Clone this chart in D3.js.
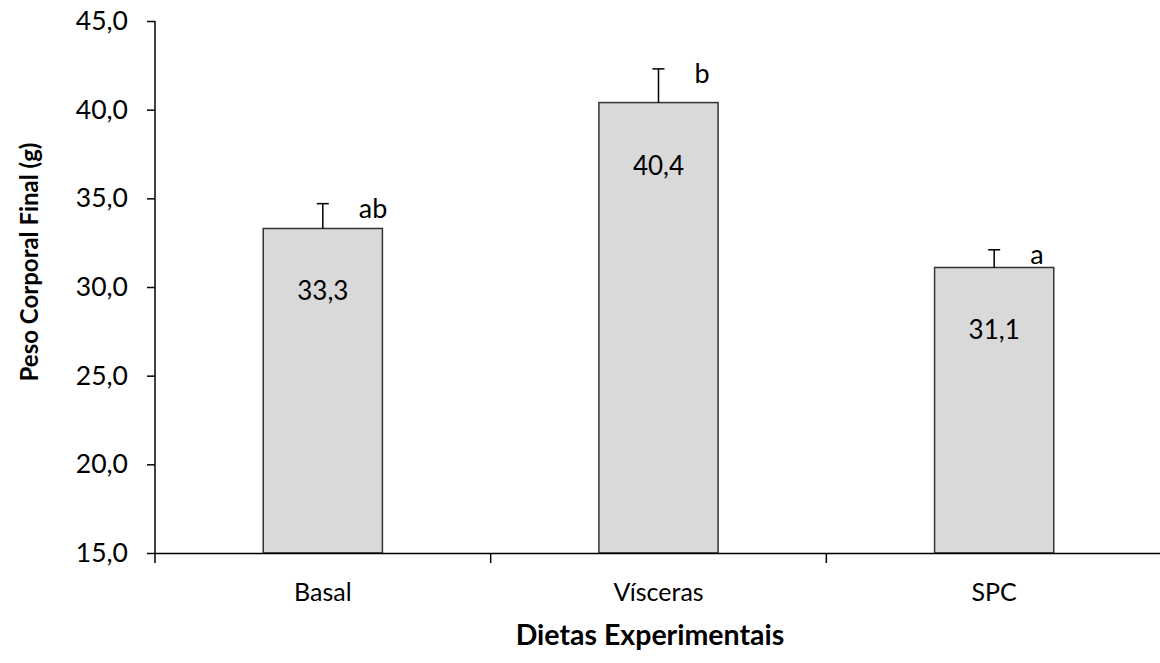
<!DOCTYPE html>
<html lang="pt">
<head>
    <meta charset="UTF-8">
    <script src="https://d3js.org/d3.v7.min.js"></script>
    <title>Peso Corporal Final</title>
    <style>
        body { margin: 0; background: #fff; }
        svg text { font-family: Lato, "Open Sans", sans-serif; fill: #000; }
    </style>
</head>
<body>
    <div id="chart"></div>
    <script>
        // Data
        const dietas = ["Basal", "Vísceras", "SPC"];
        const pesoMedio = [33.3, 40.4, 31.1];
        const pesoErro = [1.4, 1.9, 1.0];
        const letras = ["ab", "b", "a"];
        const yTicks = [15, 20, 25, 30, 35, 40, 45];

        const width = 1160;
        const height = 663;
        const margin = { top: 21, right: -2, bottom: 110, left: 155 };

        const svg = d3.select("#chart")
            .append("svg")
            .attr("width", width)
            .attr("height", height);

        const x = d3.scaleBand()
            .domain(dietas)
            .range([margin.left, width - margin.right])
            .paddingInner(0.645)
            .paddingOuter(0.3225);

        const y = d3.scaleLinear()
            .domain([15, 45])
            .range([height - margin.bottom, margin.top]);

        const fmt = v => d3.format(".1f")(v).replace(".", ",");

        // Bars
        const bars = svg.selectAll(".bar")
            .data(dietas)
            .enter()
            .append("g");

        bars.append("rect")
            .attr("x", d => x(d))
            .attr("y", (d, i) => y(pesoMedio[i]))
            .attr("width", x.bandwidth())
            .attr("height", (d, i) => y(15) - y(pesoMedio[i]))
            .attr("fill", "#d9d9d9")
            .attr("stroke", "#333")
            .attr("stroke-width", 1.5);

        // Error bars (upper only)
        bars.append("line")
            .attr("x1", d => x(d) + x.bandwidth() / 2)
            .attr("x2", d => x(d) + x.bandwidth() / 2)
            .attr("y1", (d, i) => y(pesoMedio[i]))
            .attr("y2", (d, i) => y(pesoMedio[i] + pesoErro[i]))
            .attr("stroke", "#000")
            .attr("stroke-width", 1.5);

        bars.append("line")
            .attr("x1", d => x(d) + x.bandwidth() / 2 - 6)
            .attr("x2", d => x(d) + x.bandwidth() / 2 + 6)
            .attr("y1", (d, i) => y(pesoMedio[i] + pesoErro[i]))
            .attr("y2", (d, i) => y(pesoMedio[i] + pesoErro[i]))
            .attr("stroke", "#000")
            .attr("stroke-width", 1.5);

        // Value labels
        bars.append("text")
            .attr("x", d => x(d) + x.bandwidth() / 2)
            .attr("y", (d, i) => y(pesoMedio[i]) + 72)
            .attr("text-anchor", "middle")
            .style("font-size", "26px")
            .text((d, i) => fmt(pesoMedio[i]));

        // Significance letters
        bars.append("text")
            .attr("x", d => x(d) + x.bandwidth() / 2 + 36)
            .attr("y", (d, i) => y(pesoMedio[i] + pesoErro[i]) + 14)
            .style("font-size", "27px")
            .text((d, i) => letras[i]);

        // Y axis
        const yAxis = svg.append("g")
            .attr("transform", `translate(${margin.left},0)`)
            .call(d3.axisLeft(y).tickValues(yTicks).tickFormat(fmt).tickSizeOuter(0).tickSize(8).tickPadding(19));

        yAxis.select(".domain")
            .attr("d", `M0,${y(45)}V${y(15) + 10}`)
            .attr("stroke", "#000")
            .attr("stroke-width", 1.5);
        yAxis.selectAll(".tick line").attr("stroke-width", 1.5);
        yAxis.selectAll("text").style("font-size", "26.5px");

        // X axis
        const xAxis = svg.append("g")
            .attr("transform", `translate(0,${y(15)})`)
            .call(d3.axisBottom(x).tickSize(0).tickPadding(30).tickSizeOuter(0));

        xAxis.select(".domain")
            .attr("stroke", "#000")
            .attr("stroke-width", 1.5);
        xAxis.selectAll("text").style("font-size", "25px");

        // Category separator ticks
        const sepTicks = dietas.slice(1).map(d => x(d) - x.step() * x.paddingInner() / 2);
        xAxis.selectAll(".sep")
            .data(sepTicks)
            .enter()
            .append("line")
            .attr("x1", d => d)
            .attr("x2", d => d)
            .attr("y1", 0)
            .attr("y2", 10)
            .attr("stroke", "#000")
            .attr("stroke-width", 1.5);

        // Axis titles
        svg.append("text")
            .attr("x", 650)
            .attr("y", 645)
            .attr("text-anchor", "middle")
            .style("font-size", "28.5px")
            .style("font-weight", "bold")
            .text("Dietas Experimentais");

        svg.append("text")
            .attr("transform", "translate(38,262) rotate(-90)")
            .attr("text-anchor", "middle")
            .style("font-size", "24px")
            .style("font-weight", "bold")
            .text("Peso Corporal Final (g)");
    </script>
</body>
</html>
